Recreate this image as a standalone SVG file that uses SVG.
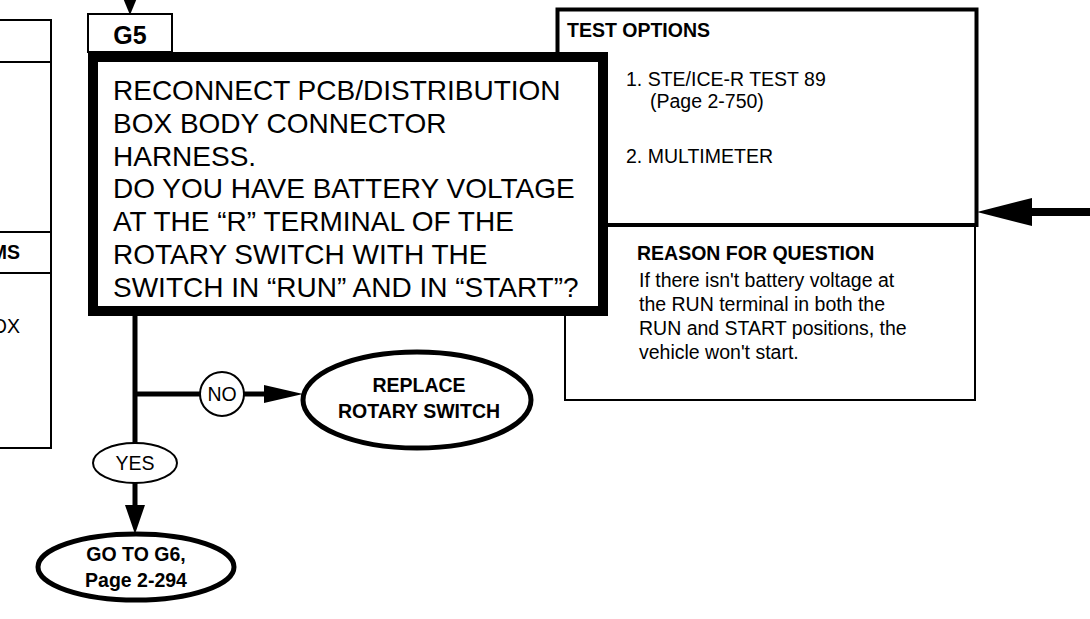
<svg xmlns="http://www.w3.org/2000/svg" width="1090" height="619" viewBox="0 0 1090 619">
<style>
text{font-family:"Liberation Sans",Arial,sans-serif;fill:#000}
.b{font-weight:bold}
.thin{fill:none;stroke:#000;stroke-width:2}
.main{font-size:28px}
.sm{font-size:19.5px}
</style>
<rect width="1090" height="619" fill="#fff"/>
<g id="left-box">
<path class="thin" d="M-5 20 H51 V448 H-5 M-5 62 H51 M-5 232 H51 M-5 273 H51"/>
<text class="sm b" x="20" y="259" text-anchor="end">MS</text>
<text class="sm" x="20" y="333" text-anchor="end">OX</text>
</g>
<g id="reason">
<path class="thin" d="M565 310 V400 H975 V224"/>
<text class="sm b" x="637" y="260">REASON FOR QUESTION</text>
<text class="sm" x="639" y="287">If there isn't battery voltage at</text>
<text class="sm" x="639" y="311">the RUN terminal in both the</text>
<text class="sm" x="639" y="335">RUN and START positions, the</text>
<text class="sm" x="639" y="359">vehicle won't start.</text>
</g>
<g id="test-options">
<rect x="557.5" y="9.5" width="419" height="215.5" fill="#fff" stroke="#000" stroke-width="4"/>
<text class="sm b" x="567" y="37">TEST OPTIONS</text>
<text class="sm" x="626" y="86">1. STE/ICE-R TEST 89</text>
<text class="sm" x="650" y="108">(Page 2-750)</text>
<text class="sm" x="626" y="163">2. MULTIMETER</text>
</g>
<g id="g5-label">
<rect x="88" y="14" width="84" height="38" fill="#fff" stroke="#000" stroke-width="2"/>
<text class="b" x="130" y="44" font-size="25" text-anchor="middle">G5</text>
</g>
<g id="g5-question">
<rect x="93" y="57" width="510" height="254" fill="#fff" stroke="#000" stroke-width="10"/>
<text class="main" x="113" y="100">RECONNECT PCB/DISTRIBUTION</text>
<text class="main" x="113" y="132.8">BOX BODY CONNECTOR</text>
<text class="main" x="113" y="165.6">HARNESS.</text>
<text class="main" x="113" y="198.4">DO YOU HAVE BATTERY VOLTAGE</text>
<text class="main" x="113" y="231.2">AT THE “R” TERMINAL OF THE</text>
<text class="main" x="113" y="264">ROTARY SWITCH WITH THE</text>
<text class="main" x="113" y="296.8">SWITCH IN “RUN” AND IN “START”?</text>
</g>
<g id="connectors" fill="none" stroke="#000">
<path d="M130 -5 V6" stroke-width="3"/>
<polygon points="123,-2 137,-2 130,15" fill="#000" stroke="none"/>
<path d="M1090 212 H1028" stroke-width="8"/>
<polygon points="1032,198 1032,226 977,212" fill="#000" stroke="none"/>
<path d="M135 315 V443 M135 483 V508" stroke-width="5"/>
<polygon points="125,505 145,505 135,534" fill="#000" stroke="none"/>
<path d="M135 394 H200 M244 394 H268" stroke-width="5"/>
<polygon points="264,385 264,403 303,394" fill="#000" stroke="none"/>
</g>
<g id="no-label">
<circle cx="222" cy="394" r="22" fill="#fff" stroke="#000" stroke-width="2"/>
<text class="sm" x="222" y="401" text-anchor="middle">NO</text>
</g>
<g id="yes-label">
<ellipse cx="135" cy="463" rx="42" ry="20" fill="#fff" stroke="#000" stroke-width="2"/>
<text class="sm" x="135" y="470" text-anchor="middle">YES</text>
</g>
<g id="replace">
<ellipse cx="417" cy="400" rx="114" ry="48" fill="#fff" stroke="#000" stroke-width="5"/>
<text class="sm b" x="419" y="392" text-anchor="middle">REPLACE</text>
<text class="sm b" x="419" y="418" text-anchor="middle">ROTARY SWITCH</text>
</g>
<g id="goto-g6">
<ellipse cx="136" cy="567" rx="98" ry="33" fill="#fff" stroke="#000" stroke-width="5"/>
<text class="sm b" x="136" y="561" text-anchor="middle">GO TO G6,</text>
<text class="sm b" x="136" y="587" text-anchor="middle">Page 2-294</text>
</g>
</svg>
